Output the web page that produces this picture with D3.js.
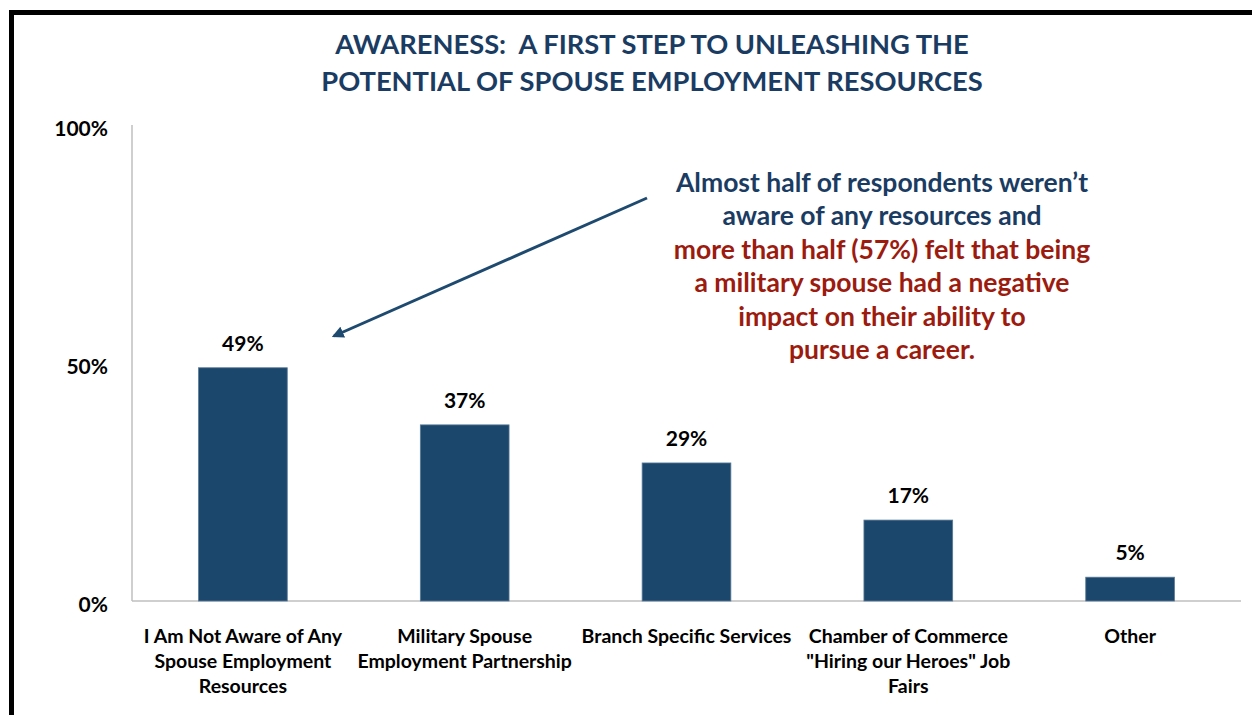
<!DOCTYPE html>
<html>
<head>
<meta charset="utf-8">
<script src="https://d3js.org/d3.v7.min.js"></script>
<style>
  body { margin: 0; background: #fff; }
  text { font-family: Lato, "Open Sans", sans-serif; font-weight: bold; white-space: pre; }
</style>
</head>
<body>
<div id="chart"></div>
<script>
// data
const categories = [
  ["I Am Not Aware of Any", "Spouse Employment", "Resources"],
  ["Military Spouse", "Employment Partnership"],
  ["Branch Specific Services"],
  ["Chamber of Commerce", "\"Hiring our Heroes\" Job", "Fairs"],
  ["Other"]
];
const values = [49, 37, 29, 17, 5];
const yTicks = [0, 50, 100];
const titleLines = ["AWARENESS:  A FIRST STEP TO UNLEASHING THE", "POTENTIAL OF SPOUSE EMPLOYMENT RESOURCES"];
const noteBlue = ["Almost half of respondents weren\u2019t", "aware of any resources and"];
const noteRed = ["more than half (57%) felt that being", "a military spouse had a negative", "impact on their ability to", "pursue a career."];

const width = 1252, height = 715;
const svg = d3.select("#chart").append("svg")
  .attr("width", width)
  .attr("height", height);

// frame (only top and left edges show in the crop)
svg.append("rect")
  .attr("x", 11.5).attr("y", 12.5)
  .attr("width", width + 20).attr("height", height + 20)
  .attr("fill", "none")
  .attr("stroke", "#000")
  .attr("stroke-width", 5);

const x = d3.scaleBand()
  .domain(d3.range(values.length))
  .range([132, 1241])
  .paddingInner(0.6)
  .paddingOuter(0.3);
const y = d3.scaleLinear().domain([0, 100]).range([601, 125]);

// axes lines
svg.append("line")
  .attr("x1", 132).attr("x2", 132)
  .attr("y1", y(100)).attr("y2", y(0))
  .attr("stroke", "#bfbfbf").attr("stroke-width", 1.5);
svg.append("line")
  .attr("x1", 132).attr("x2", 1241)
  .attr("y1", y(0)).attr("y2", y(0))
  .attr("stroke", "#bfbfbf").attr("stroke-width", 1.5);

// y tick labels
yTicks.forEach(t => {
  svg.append("text")
    .attr("x", 108)
    .attr("y", y(t) + 11)
    .attr("text-anchor", "end")
    .attr("font-size", 21)
    .attr("fill", "#000")
    .text(t + "%");
});

// bars
values.forEach((v, i) => {
  svg.append("rect")
    .attr("x", x(i))
    .attr("y", y(v))
    .attr("width", x.bandwidth())
    .attr("height", y(0) - y(v))
    .attr("fill", "#1c476d")
    .attr("stroke", "#5a7a96")
    .attr("stroke-width", 0.8);
  svg.append("text")
    .attr("x", x(i) + x.bandwidth() / 2)
    .attr("y", y(v) - 17)
    .attr("text-anchor", "middle")
    .attr("font-size", 21)
    .attr("fill", "#000")
    .text(v + "%");
});

// category labels
categories.forEach((lines, i) => {
  lines.forEach((line, j) => {
    svg.append("text")
      .attr("x", x(i) + x.bandwidth() / 2)
      .attr("y", 643 + j * 25)
      .attr("text-anchor", "middle")
      .attr("font-size", 19.5)
      .attr("fill", "#000")
      .text(line);
  });
});

// title
titleLines.forEach((line, j) => {
  svg.append("text")
    .attr("x", 652)
    .attr("y", 54 + j * 37)
    .attr("text-anchor", "middle")
    .attr("font-size", 27.3)
    .attr("fill", "#1b3c62")
    .text(line);
});

// annotation
noteBlue.concat(noteRed).forEach((line, j) => {
  svg.append("text")
    .attr("x", 882)
    .attr("y", 192 + j * 33.4)
    .attr("text-anchor", "middle")
    .attr("font-size", 26.5)
    .attr("fill", j < noteBlue.length ? "#1b3c62" : "#9c1b0f")
    .text(line);
});

// arrow pointing to first bar
const defs = svg.append("defs");
defs.append("marker")
  .attr("id", "head")
  .attr("viewBox", "0 0 10 10")
  .attr("refX", 8).attr("refY", 5)
  .attr("markerWidth", 4).attr("markerHeight", 4)
  .attr("orient", "auto")
  .append("path")
  .attr("d", "M0,0 L10,5 L0,10 z")
  .attr("fill", "#1f4a70");
svg.append("line")
  .attr("x1", 647).attr("y1", 198)
  .attr("x2", 334).attr("y2", 336)
  .attr("stroke", "#1f4a70")
  .attr("stroke-width", 3)
  .attr("marker-end", "url(#head)");
</script>
</body>
</html>
